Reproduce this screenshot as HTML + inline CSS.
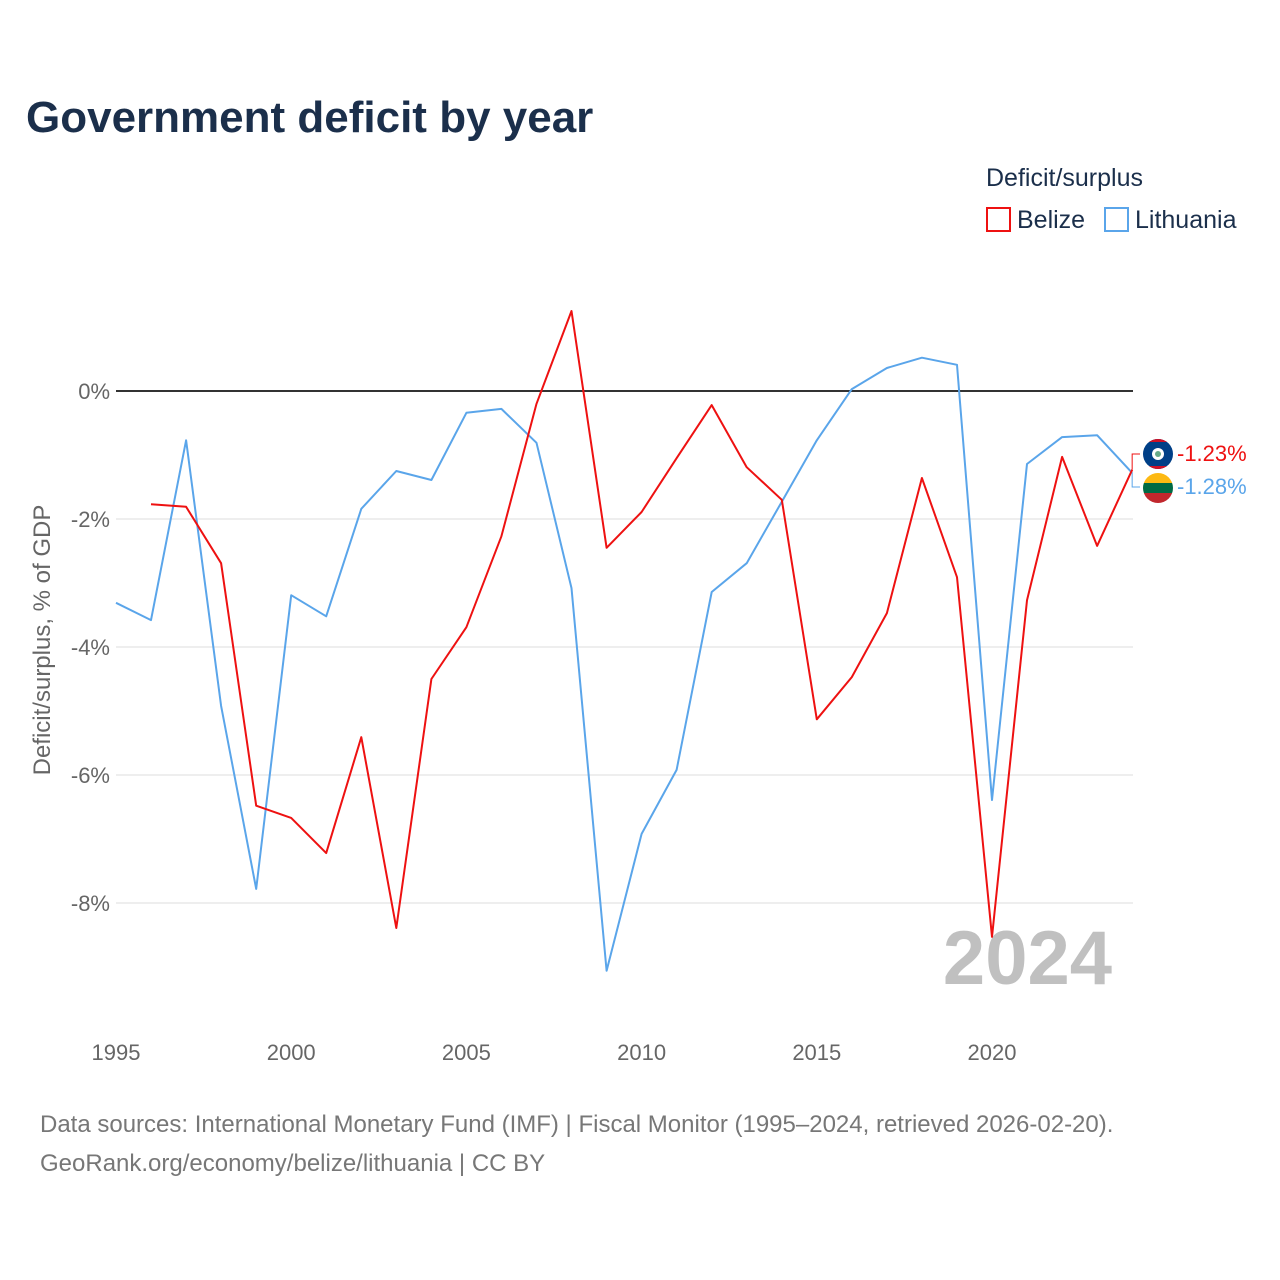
<!DOCTYPE html>
<html><head><meta charset="utf-8"><style>
body{margin:0;background:#fff;font-family:"Liberation Sans",sans-serif;}
#wrap{position:relative;width:1280px;height:1280px;overflow:hidden;}
</style></head><body>
<div id="wrap">
<svg id="chart" width="1280" height="1280" xmlns="http://www.w3.org/2000/svg">
<defs><clipPath id="cpb"><circle cx="1158" cy="454" r="15"/></clipPath><clipPath id="cp"><circle cx="1158" cy="488" r="15"/></clipPath></defs>
<text x="26" y="132" font-size="44" font-weight="bold" fill="#1b2f4b">Government deficit by year</text>
<text x="986" y="186" font-size="25" fill="#1b2f4b">Deficit/surplus</text>
<g><rect x="987" y="208" width="23" height="23" fill="none" stroke="#ee1111" stroke-width="2"/><text x="1017" y="228" font-size="25" fill="#1b2f4b">Belize</text></g>
<g><rect x="1105" y="208" width="23" height="23" fill="none" stroke="#5aa5ea" stroke-width="2"/><text x="1135" y="228" font-size="25" fill="#1b2f4b">Lithuania</text></g>
<g id="grid"></g><g id="ylabels"></g><g id="xlabels"></g>
<text x="1112" y="984" font-size="76" font-weight="bold" fill="#c0c0c0" text-anchor="end">2024</text>
<g id="series"></g>
<text transform="translate(50,640) rotate(-90)" font-size="24" fill="#666" text-anchor="middle">Deficit/surplus, % of GDP</text>
<text x="40" y="1132" font-size="24" fill="#777">Data sources: International Monetary Fund (IMF) | Fiscal Monitor (1995–2024, retrieved 2026-02-20).</text>
<text x="40" y="1171" font-size="24" fill="#777">GeoRank.org/economy/belize/lithuania | CC BY</text>
</svg></div>
<script>
const years=[1995,1996,1997,1998,1999,2000,2001,2002,2003,2004,2005,2006,2007,2008,2009,2010,2011,2012,2013,2014,2015,2016,2017,2018,2019,2020,2021,2022,2023,2024];
const lithuania=[-3.31,-3.58,-0.77,-4.92,-7.78,-3.19,-3.52,-1.84,-1.25,-1.39,-0.34,-0.28,-0.81,-3.08,-9.06,-6.92,-5.92,-3.14,-2.69,-1.73,-0.77,0.03,0.36,0.52,0.41,-6.39,-1.14,-0.72,-0.69,-1.28];
const belize=[null,-1.77,-1.81,-2.69,-6.48,-6.67,-7.22,-5.41,-8.39,-4.5,-3.69,-2.27,-0.2,1.25,-2.45,-1.89,-1.05,-0.22,-1.19,-1.7,-5.13,-4.47,-3.47,-1.36,-2.91,-8.53,-3.27,-1.03,-2.42,-1.23];
const yTicks=[0,-2,-4,-6,-8];
const xTicks=[1995,2000,2005,2010,2015,2020];
const NS="http://www.w3.org/2000/svg";
function X(y){return 116+(y-1995)*35.04;}
function Y(v){return 391-v*64;}
function mk(tag,attrs,parent){const e=document.createElementNS(NS,tag);for(const k in attrs)e.setAttribute(k,attrs[k]);parent.appendChild(e);return e;}
const grid=document.getElementById('grid'),yl=document.getElementById('ylabels'),xl=document.getElementById('xlabels'),ser=document.getElementById('series');
yTicks.forEach(t=>{
 const l=mk('line',{x1:116,x2:1133,y1:Y(t),y2:Y(t),stroke:t===0?'#333':'#e8e8e8','stroke-width':t===0?2:1.5},grid);
 
 
 const tx=mk('text',{x:110,y:Y(t)+8,'font-size':22,fill:'#666','text-anchor':'end'},yl);
 tx.textContent=t+'%';
 
 
});
xTicks.forEach(t=>{
 const tx=mk('text',{x:X(t),y:1060,'font-size':22,fill:'#666','text-anchor':'middle'},xl);
 tx.textContent=t;
 
 
});
function line(vals,color,name){
 let d='';vals.forEach((v,i)=>{if(v===null)return;d+=(d?'L':'M')+X(years[i]).toFixed(1)+','+Y(v).toFixed(1);});
 const p=mk('path',{d:d,fill:'none',stroke:color,'stroke-width':2,'stroke-linejoin':'round'},ser);
 
 
}
line(lithuania,'#5aa5ea','lithuania-line');
line(belize,'#ee1111','belize-line');
const lb=belize[belize.length-1],ll=lithuania[lithuania.length-1],lx=X(2024);
mk('path',{d:`M${lx},${Y(lb)} L${lx},${454} L${1140},454`,fill:'none',stroke:'#ee1111','stroke-width':1},ser);
mk('path',{d:`M${lx},${Y(ll)} L${lx},${487} L${1140},487`,fill:'none',stroke:'#5aa5ea','stroke-width':1},ser);
const f1=mk('g',{'clip-path':'url(#cpb)'},ser);


mk('rect',{x:1143,y:439,width:30,height:30,fill:'#003f87'},f1);mk('rect',{x:1143,y:439,width:30,height:3,fill:'#ce1126'},f1);mk('rect',{x:1143,y:466,width:30,height:3,fill:'#ce1126'},f1);mk('circle',{cx:1158,cy:454,r:6,fill:'#fff'},f1);mk('circle',{cx:1158,cy:454,r:3,fill:'#6a8'},f1);
const f2=mk('g',{'clip-path':'url(#cp)'},ser);


mk('rect',{x:1143,y:473,width:30,height:10,fill:'#fdb913'},f2);mk('rect',{x:1143,y:483,width:30,height:10,fill:'#006a44'},f2);mk('rect',{x:1143,y:493,width:30,height:10,fill:'#c1272d'},f2);
const t1=mk('text',{x:1177,y:461,'font-size':22,fill:'#ee1111'},ser);t1.textContent=lb.toFixed(2)+'%';


const t2=mk('text',{x:1177,y:494,'font-size':22,fill:'#5aa5ea'},ser);t2.textContent=ll.toFixed(2)+'%';


</script>
</body></html>
